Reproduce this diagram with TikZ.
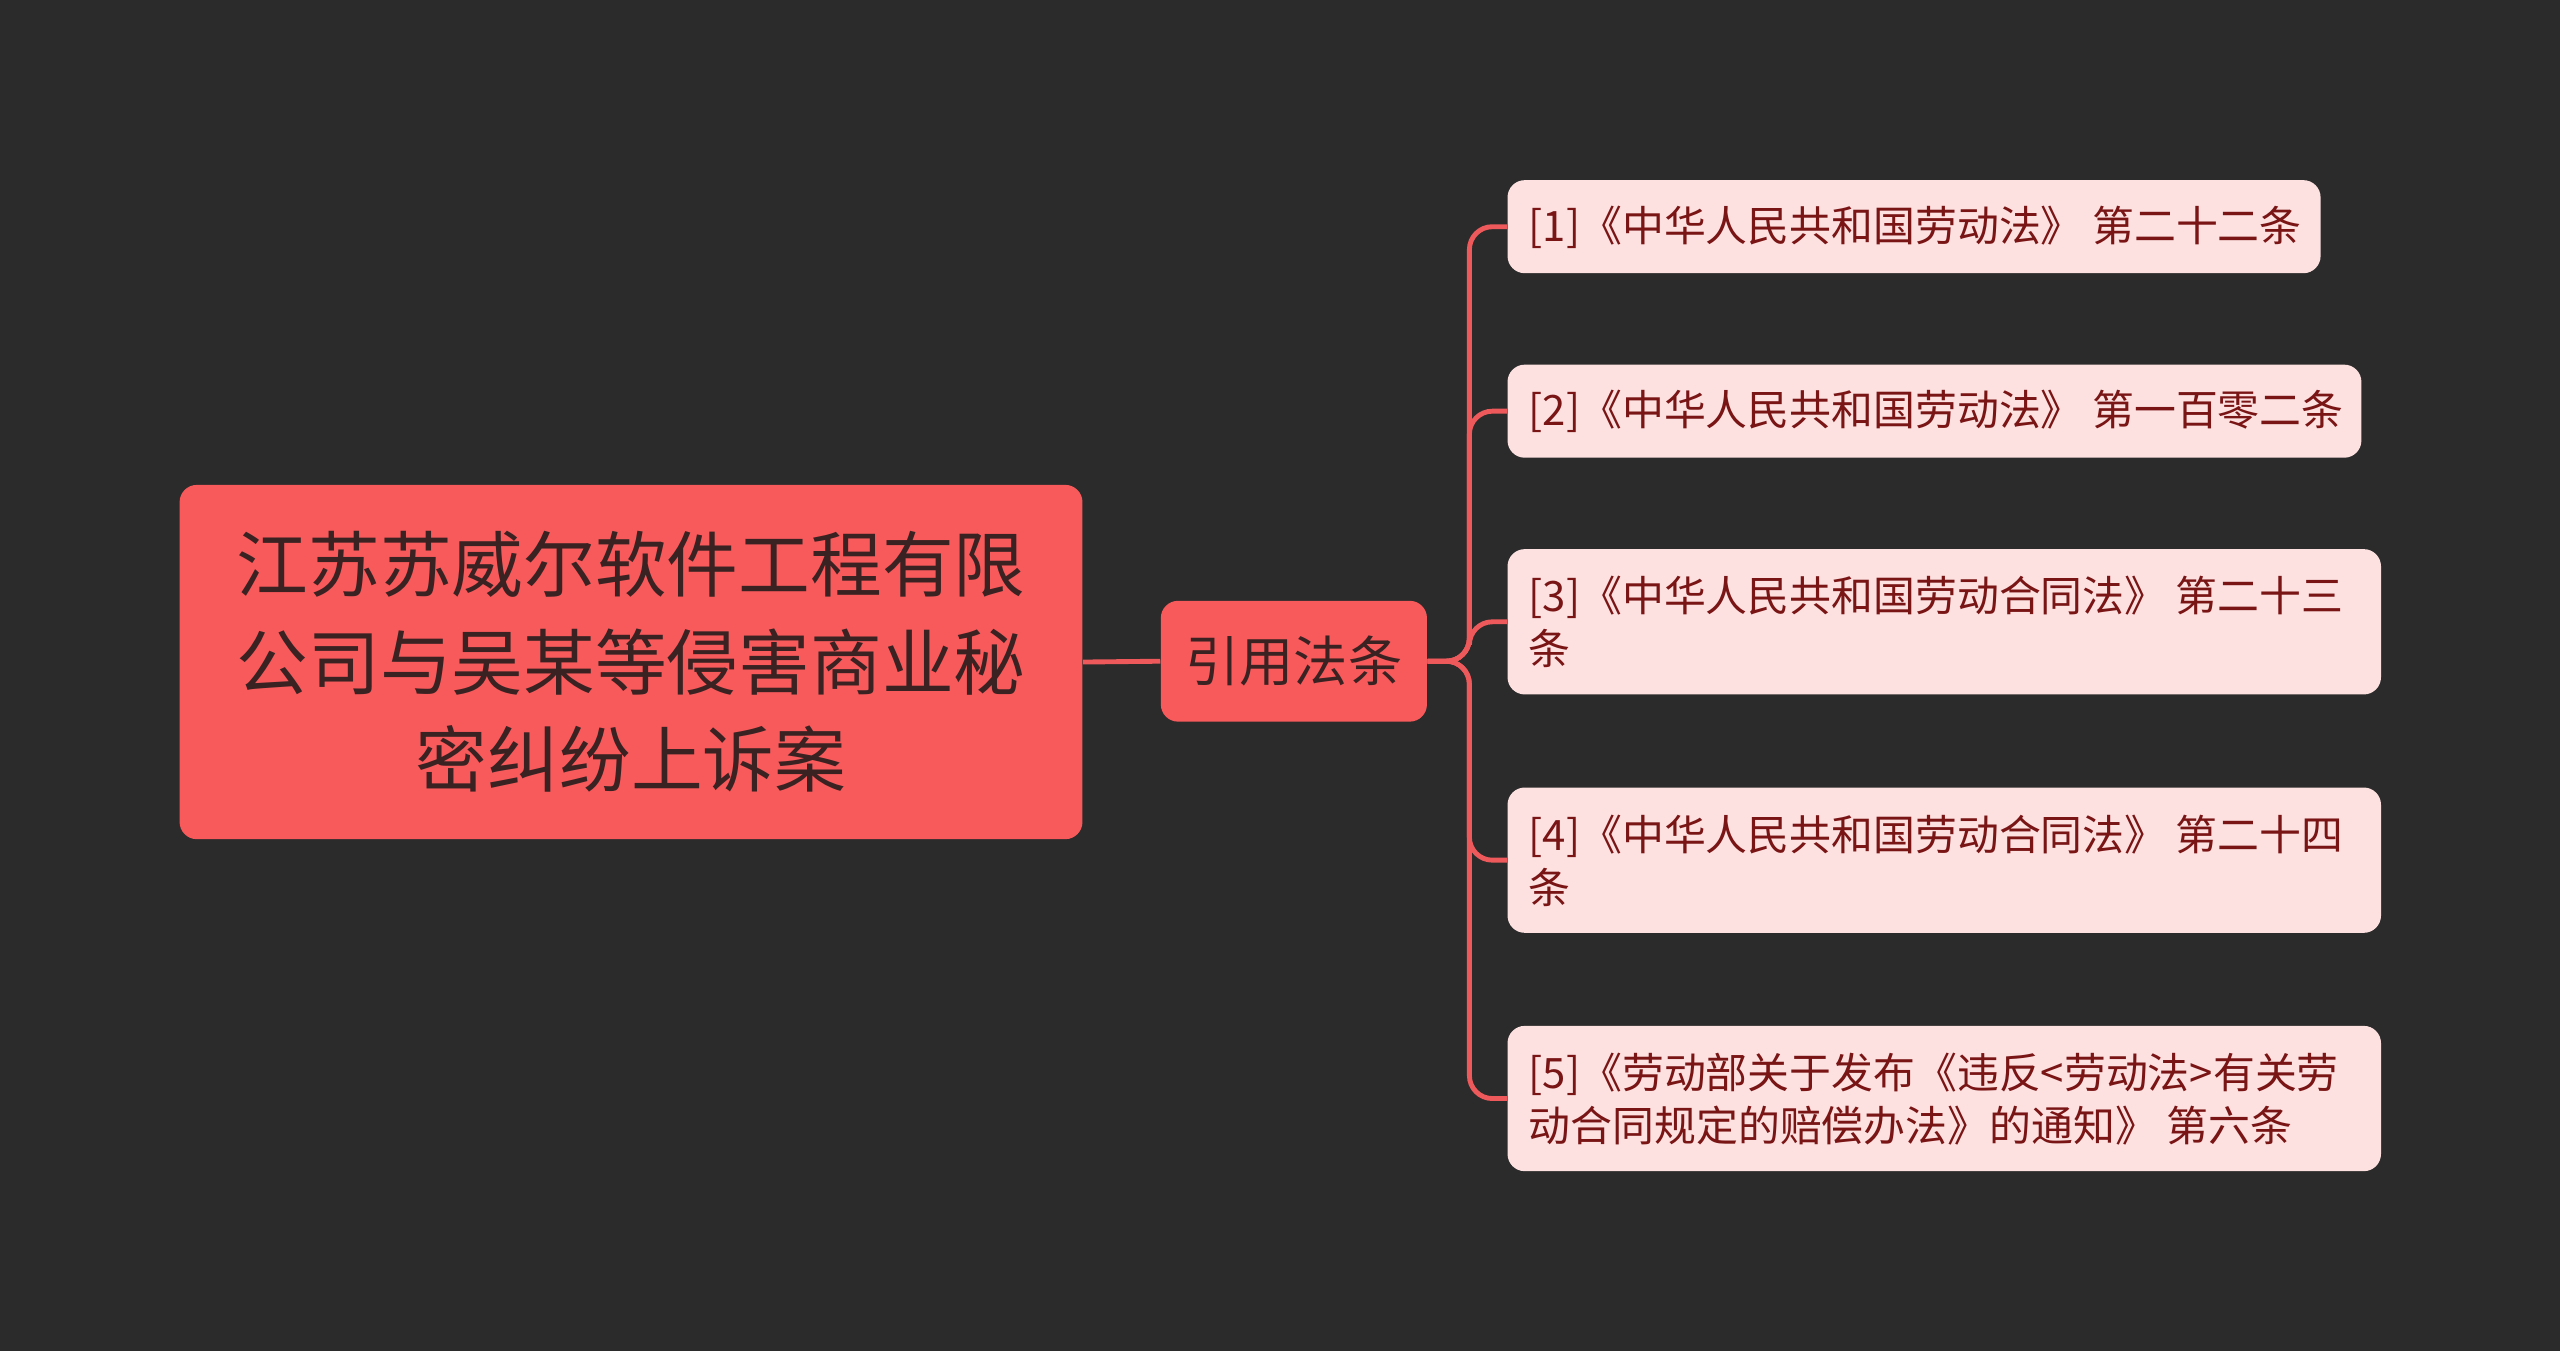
\documentclass[tikz,border=0pt]{standalone}
\usepackage{fontspec}
\setmainfont{Noto Sans CJK SC}
\begin{document}
\begin{tikzpicture}[x=0.02cm,y=-0.02cm,
 box/.style={draw=none,rounded corners=6pt,inner sep=0pt},
 leaf/.style={box,fill=leafc,anchor=north west},
 lt/.style={anchor=west,align=left,text=leaftxt,font=\fontsize{14.6pt}{18.5pt}\selectfont,inner sep=0pt},
 con/.style={draw=linec,line width=1.7pt,rounded corners=8pt}]
\definecolor{bg}{HTML}{2B2B2B}
\definecolor{rootc}{HTML}{F85A5C}
\definecolor{leafc}{HTML}{FDE1E1}
\definecolor{leaftxt}{HTML}{7A1516}
\definecolor{linec}{HTML}{EE5A5C}
\definecolor{dk}{HTML}{3A2222}
\useasboundingbox (0,0) rectangle (1568,827);
\fill[bg] (-5,-5) rectangle (1573,832);
\node[box,fill=rootc,minimum width=553*0.02cm,minimum height=217*0.02cm,align=center,text=dk,font=\fontsize{25pt}{34pt}\selectfont] (root) at (386.5,405.5) {江苏苏威尔软件工程有限\\公司与吴某等侵害商业秘\\密纠纷上诉案};
\node[box,fill=rootc,minimum width=163*0.02cm,minimum height=74*0.02cm,text=dk,font=\fontsize{18.9pt}{22pt}\selectfont] (mid) at (792.5,405) {引用法条};
\node[leaf,minimum width=498*0.02cm,minimum height=57*0.02cm] (l1) at (923,110) {};
\node[leaf,minimum width=523*0.02cm,minimum height=57*0.02cm] (l2) at (923,223) {};
\node[leaf,minimum width=535*0.02cm,minimum height=89*0.02cm] (l3) at (923,336) {};
\node[leaf,minimum width=535*0.02cm,minimum height=89*0.02cm] (l4) at (923,482) {};
\node[leaf,minimum width=535*0.02cm,minimum height=89*0.02cm] (l5) at (923,628) {};
\node[lt] (t1) at (936,139) {[1]《中华人民共和国劳动法》 第二十二条};
\node[lt] (t2) at (936,252) {[2]《中华人民共和国劳动法》 第一百零二条};
\node[lt] (t3) at (936,381) {[3]《中华人民共和国劳动合同法》 第二十三\\条};
\node[lt] (t4) at (936,527) {[4]《中华人民共和国劳动合同法》 第二十四\\条};
\node[lt] (t5) at (936,673) {[5]《劳动部关于发布《违反<劳动法>有关劳\\动合同规定的赔偿办法》的通知》 第六条};
\draw[con] (root.east) -- (mid.west);
\coordinate (tr) at (900,405);
\foreach \n in {l1,l2,l3,l4,l5}{
 \draw[con] (mid.east) -- (tr) |- (\n.west);
}
\end{tikzpicture}
\end{document}
